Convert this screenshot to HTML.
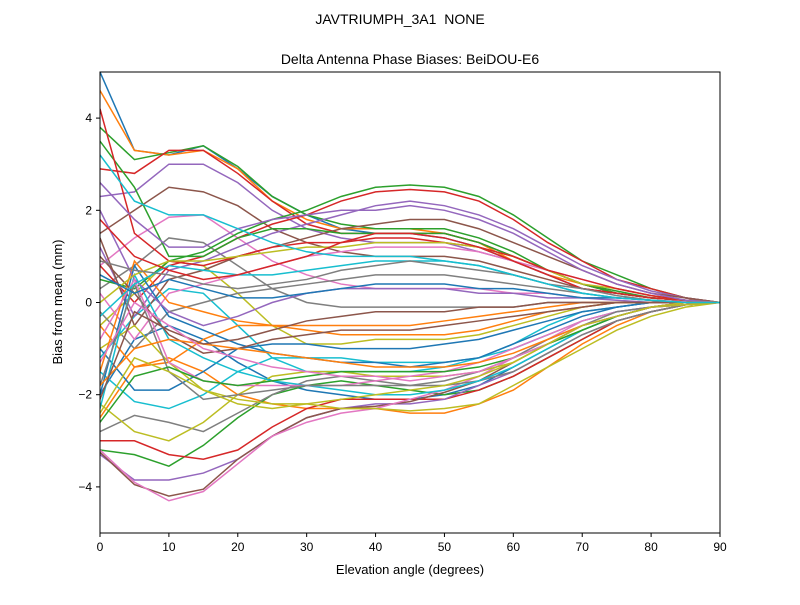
<!DOCTYPE html>
<html><head><meta charset="utf-8"><style>
body{margin:0;background:#fff}
svg{font-family:"Liberation Sans","DejaVu Sans",sans-serif}
</style></head><body>
<svg id="chart" width="800" height="600" viewBox="0 0 800 600">
<rect width="800" height="600" fill="#fff"/>
<text x="400" y="24" text-anchor="middle" font-size="14">JAVTRIUMPH_3A1&#160; NONE</text>
<text x="410" y="64" text-anchor="middle" font-size="14">Delta Antenna Phase Biases: BeiDOU-E6</text>
<defs><clipPath id="clip"><rect x="100" y="72" width="620" height="461"/></clipPath></defs>
<g id="lines" clip-path="url(#clip)"></g>
<rect x="100" y="72" width="620" height="461" fill="none" stroke="#000" stroke-width="1"/>
<g id="xticks"></g>
<g id="yticks"></g>
<text x="410" y="574" text-anchor="middle" font-size="13">Elevation angle (degrees)</text>
<text transform="translate(62,302) rotate(-90)" text-anchor="middle" font-size="13">Bias from mean (mm)</text>
</svg>
<script>
const elevations=[0,5,10,15,20,25,30,35,40,45,50,55,60,65,70,75,80,85,90];
const xTicks=[0,10,20,30,40,50,60,70,80,90];
const yTicks=[-4,-2,0,2,4];
const s1=[5.0,3.3,3.2,3.4,2.9,2.3,1.9,1.6,1.5,1.5,1.4,1.2,0.9,0.6,0.3,0.2,0.1,0.05,0];
const s2=[4.6,3.3,3.2,3.3,2.9,2.2,1.8,1.6,1.6,1.6,1.5,1.3,0.9,0.6,0.4,0.2,0.1,0.05,0];
const s3=[3.8,3.1,3.25,3.4,2.95,2.3,1.9,1.7,1.6,1.6,1.6,1.4,1.1,0.7,0.4,0.25,0.1,0.05,0];
const s4=[2.9,2.8,3.3,3.3,2.8,2.2,1.7,1.5,1.5,1.5,1.5,1.3,1.0,0.7,0.4,0.2,0.1,0.05,0];
const s5=[2.3,2.4,3.0,3.0,2.6,2.0,1.6,1.4,1.3,1.3,1.3,1.1,0.9,0.6,0.3,0.2,0.1,0.05,0];
const s6=[1.5,2.0,2.5,2.4,2.1,1.6,1.3,1.1,1.0,1.0,1.0,0.9,0.7,0.5,0.3,0.2,0.1,0.05,0];
const s7=[0.8,1.4,1.85,1.9,1.4,0.9,0.6,0.4,0.3,0.3,0.3,0.3,0.2,0.2,0.1,0.1,0.05,0.02,0];
const s8=[0.3,0.8,1.4,1.3,0.8,0.3,0.0,-0.1,-0.1,-0.1,-0.1,-0.1,-0.1,0,0,0,0,0,0];
const s9=[-0.5,0.2,0.9,0.8,0.2,-0.5,-0.9,-0.9,-0.8,-0.8,-0.8,-0.7,-0.5,-0.3,-0.1,0,0,0,0];
const s10=[-1.2,-0.3,0.3,0.2,-0.5,-1.2,-1.5,-1.5,-1.5,-1.5,-1.4,-1.2,-0.9,-0.5,-0.2,-0.1,0,0,0];
const s11=[-2.0,-0.8,-0.5,-0.8,-1.3,-1.7,-1.9,-2.0,-2.1,-2.1,-2.0,-1.8,-1.4,-1.0,-0.6,-0.3,-0.1,-0.05,0];
const s12=[-2.5,-1.4,-1.2,-1.5,-2.0,-2.2,-2.3,-2.3,-2.3,-2.4,-2.4,-2.2,-1.9,-1.4,-0.9,-0.5,-0.2,-0.05,0];
const s13=[-3.2,-3.3,-3.55,-3.1,-2.5,-2.0,-1.8,-1.7,-1.8,-1.9,-2.0,-1.9,-1.6,-1.2,-0.8,-0.4,-0.2,-0.05,0];
const s14=[-3.0,-3.0,-3.3,-3.4,-3.2,-2.7,-2.3,-2.1,-2.1,-2.1,-2.1,-1.9,-1.6,-1.2,-0.8,-0.4,-0.2,-0.05,0];
const s15=[-3.3,-3.85,-3.85,-3.7,-3.4,-2.9,-2.5,-2.3,-2.2,-2.2,-2.1,-1.8,-1.5,-1.1,-0.7,-0.4,-0.2,-0.05,0];
const s16=[-3.25,-3.95,-4.2,-4.05,-3.4,-2.9,-2.5,-2.3,-2.25,-2.15,-1.95,-1.7,-1.3,-0.9,-0.5,-0.3,-0.1,-0.05,0];
const s17=[-3.2,-3.9,-4.3,-4.1,-3.5,-2.9,-2.6,-2.4,-2.3,-2.1,-1.9,-1.6,-1.2,-0.8,-0.4,-0.2,-0.1,-0.05,0];
const s18=[-2.8,-2.45,-2.6,-2.8,-2.4,-2.0,-1.7,-1.6,-1.7,-1.8,-1.8,-1.7,-1.5,-1.1,-0.7,-0.4,-0.2,-0.05,0];
const s19=[-2.2,-2.8,-3.0,-2.6,-2.0,-1.6,-1.5,-1.5,-1.6,-1.6,-1.6,-1.5,-1.3,-0.9,-0.6,-0.3,-0.1,-0.05,0];
const s20=[-1.5,-2.15,-2.3,-2.0,-1.5,-1.2,-1.2,-1.2,-1.3,-1.3,-1.3,-1.2,-1.0,-0.7,-0.4,-0.2,-0.1,0,0];
const s21=[-1.0,-1.9,-1.9,-1.5,-1.0,-0.9,-0.9,-1.0,-1.0,-1.0,-0.9,-0.8,-0.6,-0.4,-0.2,-0.1,0,0,0];
const s22=[-0.5,-1.4,-1.3,-0.8,-0.5,-0.5,-0.5,-0.5,-0.5,-0.5,-0.4,-0.3,-0.2,-0.1,0,0,0,0,0];
const s23=[0.5,0.3,0.9,1.1,1.5,1.8,2.0,2.3,2.5,2.55,2.5,2.3,1.9,1.4,0.9,0.6,0.3,0.1,0];
const s24=[0.8,0.0,0.8,1.0,1.4,1.7,1.9,2.2,2.4,2.45,2.4,2.2,1.8,1.3,0.9,0.5,0.3,0.1,0];
const s25=[1.2,-0.3,0.7,0.9,1.2,1.5,1.7,1.9,2.1,2.2,2.1,1.9,1.6,1.2,0.8,0.5,0.25,0.1,0];
const s26=[1.4,-0.5,0.5,0.7,1.0,1.2,1.4,1.6,1.7,1.8,1.8,1.6,1.3,1.0,0.7,0.4,0.2,0.1,0];
const s27=[0.2,-0.8,0.2,0.4,0.6,0.8,1.0,1.1,1.2,1.2,1.2,1.1,0.9,0.7,0.5,0.3,0.15,0.05,0];
const s28=[-0.2,-1.0,-0.2,0.0,0.2,0.3,0.4,0.5,0.6,0.6,0.6,0.5,0.4,0.3,0.2,0.1,0.05,0,0];
const s29=[-1.0,-0.5,-1.3,-1.9,-2.1,-2.2,-2.2,-2.3,-2.3,-2.35,-2.3,-2.2,-1.8,-1.4,-1.0,-0.6,-0.3,-0.1,0];
const s30=[-2.3,0.6,-0.8,-1.2,-1.5,-1.7,-1.8,-1.9,-2.0,-2.0,-1.9,-1.7,-1.4,-1.0,-0.6,-0.3,-0.1,0,0];
const s31=[-2.0,0.8,-0.3,-0.6,-0.9,-1.1,-1.2,-1.3,-1.3,-1.4,-1.3,-1.2,-0.9,-0.6,-0.3,-0.1,0,0,0];
const s32=[-1.5,0.9,0.0,-0.2,-0.4,-0.5,-0.6,-0.7,-0.7,-0.7,-0.7,-0.6,-0.4,-0.2,-0.1,0,0,0,0];
const s33=[3.5,2.5,1.0,1.0,1.4,1.6,1.6,1.5,1.5,1.5,1.5,1.3,1.0,0.7,0.4,0.2,0.1,0.05,0];
const s34=[4.2,1.5,0.9,0.8,1.0,1.2,1.3,1.3,1.4,1.4,1.3,1.2,0.9,0.6,0.3,0.2,0.1,0.05,0];
const s35=[2.0,0.5,-0.2,-0.5,-0.3,0.0,0.2,0.3,0.3,0.3,0.3,0.2,0.2,0.1,0.1,0.05,0,0,0];
const s36=[1.0,0.2,-0.7,-1.1,-1.0,-0.8,-0.7,-0.6,-0.6,-0.6,-0.5,-0.4,-0.3,-0.2,-0.1,0,0,0,0];
const s37=[-0.8,0.5,-1.3,-1.7,-1.8,-1.8,-1.8,-1.8,-1.7,-1.6,-1.5,-1.3,-1.0,-0.7,-0.4,-0.2,-0.1,0,0];
const s38=[-1.8,0.4,-1.5,-2.1,-2.0,-1.9,-1.8,-1.8,-1.8,-1.8,-1.7,-1.5,-1.2,-0.8,-0.5,-0.2,-0.1,0,0];
const s39=[0.0,0.6,0.9,0.9,1.0,1.1,1.2,1.2,1.3,1.3,1.3,1.2,1.0,0.7,0.4,0.3,0.15,0.05,0];
const s40=[-0.3,0.4,0.8,0.7,0.6,0.6,0.7,0.8,0.9,0.9,0.9,0.8,0.6,0.4,0.2,0.1,0.05,0,0];
const s41=[0.6,0.2,0.5,0.3,0.1,0.1,0.2,0.3,0.4,0.4,0.4,0.3,0.3,0.2,0.1,0.1,0.05,0,0];
const s42=[-1.8,-1.0,-0.8,-0.9,-1.0,-1.1,-1.2,-1.3,-1.4,-1.4,-1.4,-1.3,-1.1,-0.8,-0.5,-0.3,-0.1,0,0];
const s43=[-2.6,-1.6,-1.4,-1.7,-1.8,-1.7,-1.6,-1.5,-1.5,-1.5,-1.5,-1.4,-1.2,-0.9,-0.6,-0.3,-0.1,0,0];
const s44=[1.8,1.0,0.7,0.5,0.6,0.8,1.0,1.3,1.5,1.5,1.4,1.2,1.0,0.7,0.5,0.3,0.15,0.05,0];
const s45=[2.6,1.8,1.2,1.2,1.6,1.8,1.9,2.0,2.0,2.1,2.0,1.8,1.5,1.1,0.7,0.4,0.2,0.05,0];
const s46=[-2.1,-0.2,-0.6,-0.9,-0.8,-0.6,-0.4,-0.3,-0.2,-0.2,-0.2,-0.1,-0.1,0,0,0,0,0,0];
const s47=[-1.3,0.0,-0.5,-1.0,-1.2,-1.4,-1.5,-1.6,-1.6,-1.7,-1.6,-1.5,-1.2,-0.9,-0.5,-0.3,-0.1,0,0];
const s48=[0.9,0.7,0.6,0.4,0.3,0.4,0.5,0.7,0.8,0.9,0.8,0.7,0.6,0.4,0.3,0.15,0.05,0,0];
const s49=[-2.4,-1.2,-1.5,-1.9,-2.2,-2.3,-2.2,-2.1,-2.0,-1.9,-1.8,-1.6,-1.3,-0.9,-0.5,-0.3,-0.1,0,0];
const s50=[3.2,2.2,1.9,1.9,1.6,1.3,1.1,1.0,1.0,1.0,0.9,0.8,0.6,0.4,0.2,0.1,0.05,0,0];
const series=[s1,s2,s3,s4,s5,s6,s7,s8,s9,s10,s11,s12,s13,s14,s15,s16,s17,s18,s19,s20,s21,s22,s23,s24,s25,s26,s27,s28,s29,s30,s31,s32,s33,s34,s35,s36,s37,s38,s39,s40,s41,s42,s43,s44,s45,s46,s47,s48,s49,s50];
const colors=["#1f77b4","#ff7f0e","#2ca02c","#d62728","#9467bd","#8c564b","#e377c2","#7f7f7f","#bcbd22","#17becf"];
const NS="http://www.w3.org/2000/svg";
const X0=100,X1=720,Y0=533,Y1=72,XMIN=0,XMAX=90,YMIN=-5,YMAX=5;
function xs(v){return X0+(v-XMIN)/(XMAX-XMIN)*(X1-X0);}
function ys(v){return Y0-(v-YMIN)/(YMAX-YMIN)*(Y0-Y1);}
const lines=document.getElementById('lines');
series.forEach((s,i)=>{
  const p=document.createElementNS(NS,'polyline');
  p.setAttribute('points',s.map((v,j)=>xs(elevations[j])+','+ys(v)).join(' '));
  p.setAttribute('fill','none');
  p.setAttribute('stroke',colors[i%10]);
  p.setAttribute('stroke-width','1.5');
  
  
  lines.appendChild(p);
});
const xg=document.getElementById('xticks');
xTicks.forEach(t=>{
  const l=document.createElementNS(NS,'line');
  l.setAttribute('x1',xs(t));l.setAttribute('x2',xs(t));l.setAttribute('y1',Y0);l.setAttribute('y2',Y0+4);
  l.setAttribute('stroke','#000');
  
  
  xg.appendChild(l);
  const tx=document.createElementNS(NS,'text');
  tx.setAttribute('x',xs(t));tx.setAttribute('y',Y0+18);tx.setAttribute('text-anchor','middle');tx.setAttribute('font-size','12');
  tx.textContent=t;
  
  
  xg.appendChild(tx);
});
const yg=document.getElementById('yticks');
yTicks.forEach(t=>{
  const l=document.createElementNS(NS,'line');
  l.setAttribute('x1',X0-4);l.setAttribute('x2',X0);l.setAttribute('y1',ys(t));l.setAttribute('y2',ys(t));
  l.setAttribute('stroke','#000');
  
  
  yg.appendChild(l);
  const tx=document.createElementNS(NS,'text');
  tx.setAttribute('x',X0-8);tx.setAttribute('y',ys(t)+4);tx.setAttribute('text-anchor','end');tx.setAttribute('font-size','12');
  tx.textContent=t<0?'\u2212'+Math.abs(t):String(t);
  
  
  yg.appendChild(tx);
});
</script>
</body></html>
